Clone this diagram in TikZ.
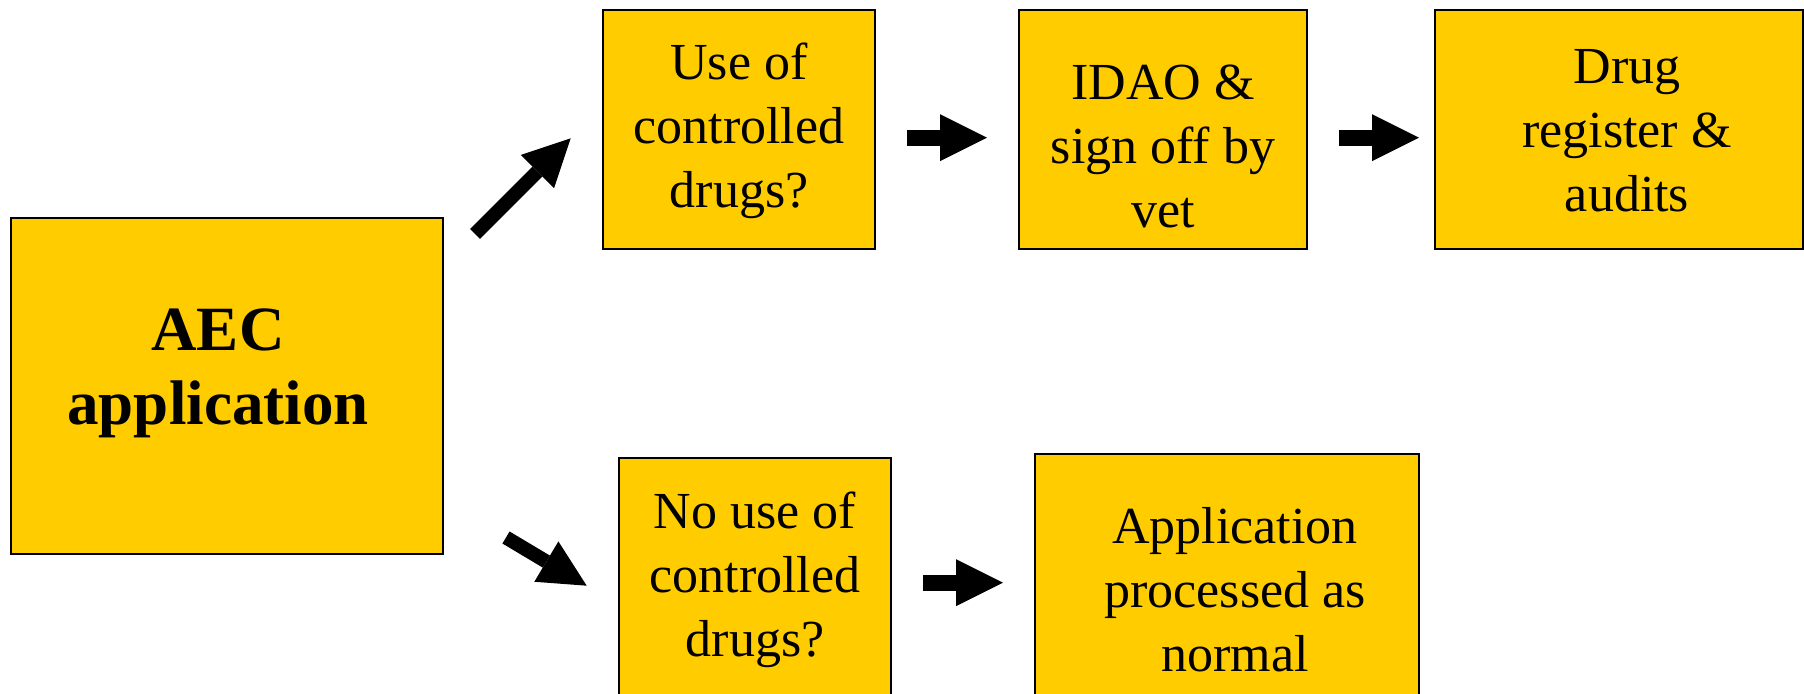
\documentclass[tikz,border=0pt]{standalone}
\usepackage{fontspec}
\setmainfont{Liberation Serif}
\usetikzlibrary{arrows.meta}
\definecolor{boxyellow}{RGB}{255,204,0}
\begin{document}
\begin{tikzpicture}[x=0.5pt,y=-0.5pt,
  box/.style={draw=black, line width=1pt, fill=boxyellow, inner sep=0pt},
  txt/.style={anchor=base, inner sep=0pt, font=\fontsize{26}{32}\selectfont},
  bigtxt/.style={anchor=base, inner sep=0pt, font=\fontsize{31.5}{36.7}\selectfont\bfseries},
  harrow/.style={line width=8pt, -{Triangle[length=23.5pt,width=23.5pt,line width=0pt]}},
  darrow/.style={line width=7pt, -{Triangle[length=23.5pt,width=23.5pt,line width=0pt]}}]
\useasboundingbox (0,0) rectangle (1804,694);
\clip (0,0) rectangle (1804,694);
% boxes
\node[box, minimum width=216pt, minimum height=168pt] (aec) at (227,386) {};
\node[box, minimum width=136pt, minimum height=119.5pt] (use) at (739,129.5) {};
\node[box, minimum width=144pt, minimum height=119.5pt] (idao) at (1163,129.5) {};
\node[box, minimum width=184pt, minimum height=119.5pt] (drug) at (1619,129.5) {};
\node[box, minimum width=136pt, minimum height=131pt] (nouse) at (755,589) {};
\node[box, minimum width=192pt, minimum height=133pt] (appl) at (1227,587) {};
% texts
\node[bigtxt] (aec-t) at (218,350.7) {\begin{tabular}[t]{@{}c@{}}AEC\\application\end{tabular}};
\node[txt] (use-t) at (739,80) {\begin{tabular}[t]{@{}c@{}}Use of\\controlled\\drugs?\end{tabular}};
\node[txt] (idao-t) at (1163,99.3) {\begin{tabular}[t]{@{}c@{}}IDAO \&\\sign off by\\vet\end{tabular}};
\node[txt] (drug-t) at (1627,83.3) {\begin{tabular}[t]{@{}c@{}}Drug\\register \&\\audits\end{tabular}};
\node[txt] (nouse-t) at (755,528.3) {\begin{tabular}[t]{@{}c@{}}No use of\\controlled\\drugs?\end{tabular}};
\node[txt] (appl-t) at (1235,543.3) {\begin{tabular}[t]{@{}c@{}}Application\\processed as\\normal\end{tabular}};
% connectors
\coordinate (up-s) at (475,234);
\coordinate (up-e) at (570.7,138.3);
\coordinate (dn-s) at (506,537.5);
\coordinate (dn-e) at (586.7,585.7);
\draw[darrow] (up-s) -- (up-e);
\draw[darrow] (dn-s) -- (dn-e);
\draw[harrow, shorten <=15.5pt, shorten >=15.5pt] ([yshift=-4.1pt]use.east) -- ([yshift=-4.1pt]use.east -| idao.west);
\draw[harrow, shorten <=15.5pt, shorten >=7.5pt] ([yshift=-4.1pt]idao.east) -- ([yshift=-4.1pt]idao.east -| drug.west);
\draw[harrow, shorten <=15.5pt, shorten >=15.5pt] ([yshift=3.15pt]nouse.east) -- ([yshift=3.15pt]nouse.east -| appl.west);
\end{tikzpicture}
\end{document}
